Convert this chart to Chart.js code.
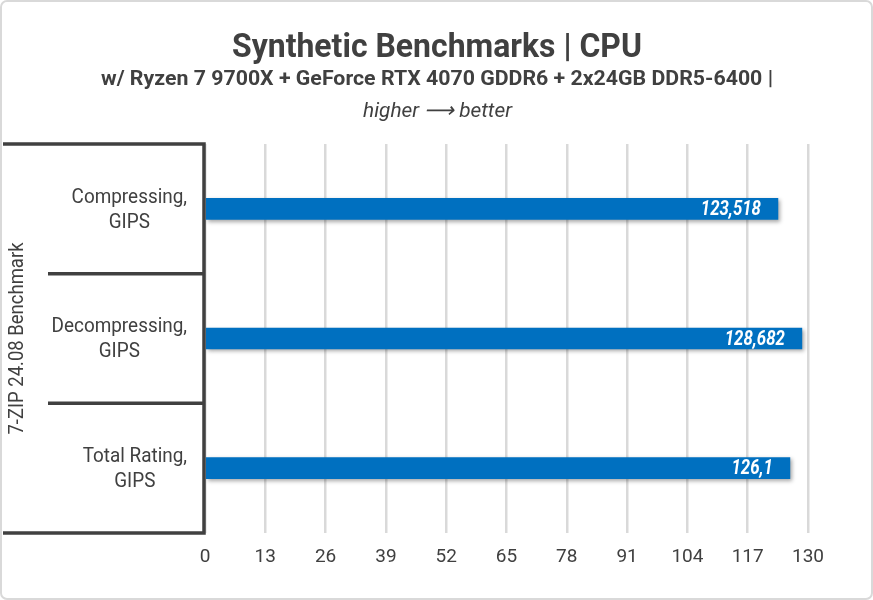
<!DOCTYPE html>
<html>
<head>
<meta charset="utf-8">
<script src="https://cdn.jsdelivr.net/npm/chart.js@4.4.1/dist/chart.umd.min.js"></script>
<style>
html,body{margin:0;padding:0;background:#ffffff;}
canvas{display:block;}
</style>
</head>
<body>
<canvas id="c" width="873" height="600"></canvas>
<script>
// ---- data ----
const categories = [["Compressing,", "GIPS"], ["Decompressing,", "GIPS"], ["Total Rating,", "GIPS"]];
const values = [123.518, 128.682, 126.1];
const xTickValues = [0, 13, 26, 39, 52, 65, 78, 91, 104, 117, 130];
const groupLabel = "7-ZIP 24.08 Benchmark";
const titleText = "Synthetic Benchmarks | CPU";
const subtitleText = "w/ Ryzen 7 9700X + GeForce RTX 4070 GDDR6 + 2x24GB DDR5-6400 |";
const noteText = "higher \u27F6 better";

const valueLabels = values.map(v => String(v).replace('.', ','));

const TEXT = '#404040';
const FONT = 'Roboto, "Noto Sans", sans-serif';

function condText(ctx, text, x, y, font, align, sx, color, baseline) {
  ctx.save();
  ctx.font = font;
  ctx.fillStyle = color;
  ctx.textBaseline = baseline || 'middle';
  ctx.textAlign = align;
  ctx.translate(x, y);
  ctx.scale(sx, 1);
  ctx.fillText(text, 0, 0);
  ctx.restore();
}
function fitText(ctx, text, cx, y, font, width, color) {
  ctx.save();
  ctx.font = font;
  const w = ctx.measureText(text).width;
  ctx.restore();
  condText(ctx, text, cx, y, font, 'center', width / w, color, 'alphabetic');
}

const shadowPlugin = {
  id: 'barShadow',
  beforeDatasetsDraw(chart) {
    const ctx = chart.ctx;
    ctx.save();
    ctx.shadowColor = 'rgba(0,0,0,0.35)';
    ctx.shadowBlur = 4;
    ctx.shadowOffsetX = 2;
    ctx.shadowOffsetY = 2;
  },
  afterDatasetsDraw(chart) {
    chart.ctx.restore();
  }
};

const decorPlugin = {
  id: 'decor',
  afterDraw(chart) {
    const ctx = chart.ctx;
    const area = chart.chartArea;
    const ys = chart.scales.y;

    // box lines of the category axis
    ctx.save();
    ctx.strokeStyle = TEXT;
    ctx.lineWidth = 3.5;
    ctx.lineCap = 'butt';
    ctx.beginPath();
    ctx.moveTo(3, area.top);
    ctx.lineTo(area.left - 1, area.top);
    ctx.lineTo(area.left - 1, area.bottom);
    ctx.lineTo(3, area.bottom);
    for (let i = 0; i < categories.length - 1; i++) {
      const y = (ys.getPixelForValue(i) + ys.getPixelForValue(i + 1)) / 2;
      ctx.moveTo(48, y);
      ctx.lineTo(area.left - 1, y);
    }
    ctx.stroke();
    ctx.restore();

    // category labels (lines centered, block right-aligned)
    const catFont = '21px ' + FONT;
    const catCond = 0.9;
    ctx.save();
    ctx.font = catFont;
    categories.forEach((lines, i) => {
      const cy = ys.getPixelForValue(i);
      const bw = Math.max(...lines.map(l => ctx.measureText(l).width)) * catCond;
      const cx = 187 - bw / 2;
      const lh = 25;
      lines.forEach((l, j) => {
        const y = cy + (j - (lines.length - 1) / 2) * lh + 1;
        condText(ctx, l, cx, y, catFont, 'center', catCond, TEXT);
      });
    });
    ctx.restore();

    // group label, rotated
    ctx.save();
    ctx.translate(18, (area.top + area.bottom) / 2);
    ctx.rotate(-Math.PI / 2);
    condText(ctx, groupLabel, 0, 0, '21px ' + FONT, 'center', 0.88, TEXT);
    ctx.restore();

    // value labels inside bar ends
    const meta = chart.getDatasetMeta(0);
    meta.data.forEach((bar, i) => {
      condText(ctx, valueLabels[i], bar.x - 17, bar.y + 1, 'italic bold 21px ' + FONT, 'right', 0.8, '#ffffff');
    });

    // titles
    fitText(ctx, titleText, 437, 57, 'bold 34px ' + FONT, 410, TEXT);
    fitText(ctx, subtitleText, 437, 85, 'bold 21px ' + FONT, 672, TEXT);
    fitText(ctx, noteText, 437.5, 117, 'italic 21px ' + FONT, 149, TEXT);

    // outer frame
    ctx.save();
    ctx.strokeStyle = '#d9d9d9';
    ctx.lineWidth = 2;
    ctx.beginPath();
    if (ctx.roundRect) ctx.roundRect(1, 1, chart.width - 2, chart.height - 2, 6);
    else ctx.rect(1, 1, chart.width - 2, chart.height - 2);
    ctx.stroke();
    ctx.restore();
  }
};

new Chart(document.getElementById('c'), {
  type: 'bar',
  data: {
    labels: categories,
    datasets: [{
      data: values,
      backgroundColor: '#0070C0',
      borderWidth: 0,
      barThickness: 21
    }]
  },
  options: {
    indexAxis: 'y',
    responsive: false,
    animation: false,
    devicePixelRatio: 1,
    layout: { padding: { left: 205, right: 65, top: 144, bottom: 0 } },
    plugins: { legend: { display: false }, tooltip: { enabled: false }, title: { display: false } },
    scales: {
      x: {
        min: 0,
        max: 130,
        afterBuildTicks: s => { s.ticks = xTickValues.map(v => ({ value: v })); },
        afterFit: s => { s.height = 67; },
        grid: { color: '#d9d9d9', lineWidth: 2.5, drawTicks: false },
        border: { display: false },
        ticks: { color: TEXT, font: { family: FONT, size: 19 }, padding: 13, maxRotation: 0, autoSkip: false }
      },
      y: { display: false }
    }
  },
  plugins: [shadowPlugin, decorPlugin]
});
</script>
</body>
</html>
